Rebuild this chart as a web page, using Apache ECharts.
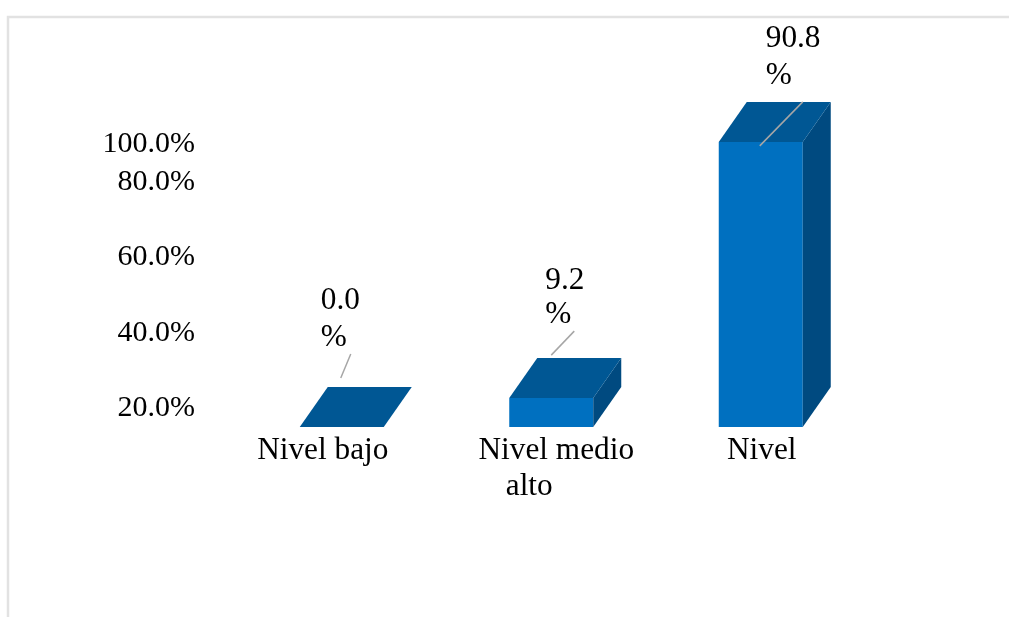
<!DOCTYPE html>
<html><head><meta charset="utf-8">
<style>html,body{margin:0;padding:0;background:#fff}#c{width:1009px;height:617px}</style>
<script src="https://cdn.jsdelivr.net/npm/echarts@6/dist/echarts.min.js"></script>
</head><body><div id="c"></div>
<script>
const categories = ['Nivel bajo', 'Nivel medio alto', 'Nivel'];
const values = [0.0, 9.2, 90.8];
const dataLabels = [['0.0', '%'], ['9.2', '%'], ['90.8', '%']];
const tickLabels = ['20.0%', '40.0%', '60.0%', '80.0%', '100.0%'];
const tickValues = [6.1, 30.0, 54.2, 78.1, 90.2];

const FONT = '"Liberation Serif","Times New Roman",serif';
const FS = 31.3;
const BAR_W = 84, DX = 28, DY = 40;
const FRONT = '#0070c0', TOP = '#005794', SIDE = '#004a80';
// label and leader placement relative to each bar's top centre
const labelLayout = [
  {dx: -21, dy: -126, gap: 37, line: [-1, -49, 9, -73]},
  {dx: -6, dy: -117, gap: 34, line: [0, -43, 23, -67]},
  {dx: 5, dy: -103, gap: 37, line: [-1, 4, 42, -40]}
];

const chart = echarts.init(document.getElementById('c'), null, {renderer: 'canvas'});
chart.setOption({
  animation: false,
  backgroundColor: '#fff',
  grid: {left: 237, right: 143.5, top: 113, bottom: 190},
  xAxis: {
    type: 'category', data: categories,
    axisLine: {show: false}, axisTick: {show: false},
    axisLabel: {
      interval: 0, margin: 6, color: '#000', fontFamily: FONT, fontSize: FS, lineHeight: 36,
      formatter: (v) => v === categories[0] ? '{l|' + v + '}'
        : v === categories[1] ? '{m|Nivel medio}\n{a|alto}' : '{n|' + v + '}',
      rich: {
        l: {fontFamily: FONT, fontSize: FS, color: '#000', lineHeight: 36, padding: [0, 38, 0, 0]},
        m: {fontFamily: FONT, fontSize: FS, color: '#000', lineHeight: 36, padding: [0, 0, 0, 10]},
        a: {fontFamily: FONT, fontSize: FS, color: '#000', lineHeight: 36, padding: [0, 44, 0, 0]},
        n: {fontFamily: FONT, fontSize: FS, color: '#000', lineHeight: 36, padding: [0, 0, 0, 2]}
      }
    }
  },
  yAxis: {
    type: 'value', min: 0, max: 100,
    splitLine: {show: false}, axisLine: {show: false}, axisTick: {show: false},
    axisLabel: {
      customValues: tickValues, margin: 42, color: '#000', fontFamily: FONT, fontSize: 30,
      formatter: (v) => tickLabels[tickValues.indexOf(v)]
    }
  },
  series: [{
    type: 'custom',
    coordinateSystem: 'cartesian2d',
    data: values.map((v, i) => [i, v]),
    clip: false,
    renderItem: (params, api) => {
      const i = params.dataIndex;
      const top = api.coord([i, api.value(1)]);
      const base = api.coord([i, 0]);
      const x0 = top[0] - BAR_W / 2, x1 = top[0] + BAR_W / 2, yT = top[1], yB = base[1];
      const children = [];
      const poly = (points, fill) => children.push({type: 'polygon', shape: {points}, style: {fill}});
      if (yB - yT > 0.5) {
        poly([[x0, yT], [x1, yT], [x1, yB], [x0, yB]], FRONT);
        poly([[x1, yT], [x1 + DX, yT - DY], [x1 + DX, yB - DY], [x1, yB]], SIDE);
      }
      poly([[x0, yT], [x0 + DX, yT - DY], [x1 + DX, yT - DY], [x1, yT]], TOP);
      const L = labelLayout[i];
      children.push({type: 'line',
        shape: {x1: top[0] + L.line[0], y1: yT + L.line[1], x2: top[0] + L.line[2], y2: yT + L.line[3]},
        style: {stroke: '#a6a6a6', lineWidth: 1.5}});
      dataLabels[i].forEach((t, k) => children.push({type: 'text',
        style: {text: t, x: top[0] + L.dx, y: yT + L.dy + k * L.gap,
          font: FS + 'px ' + FONT, fill: '#000', textAlign: 'left', textVerticalAlign: 'middle'}}));
      return {type: 'group', children};
    }
  }],
  graphic: [{
    type: 'polyline', silent: true,
    shape: {points: [[8, 617], [8, 17], [1009, 17]]},
    style: {stroke: '#e2e2e2', lineWidth: 2.5, fill: null}
  }]
});
</script></body></html>
